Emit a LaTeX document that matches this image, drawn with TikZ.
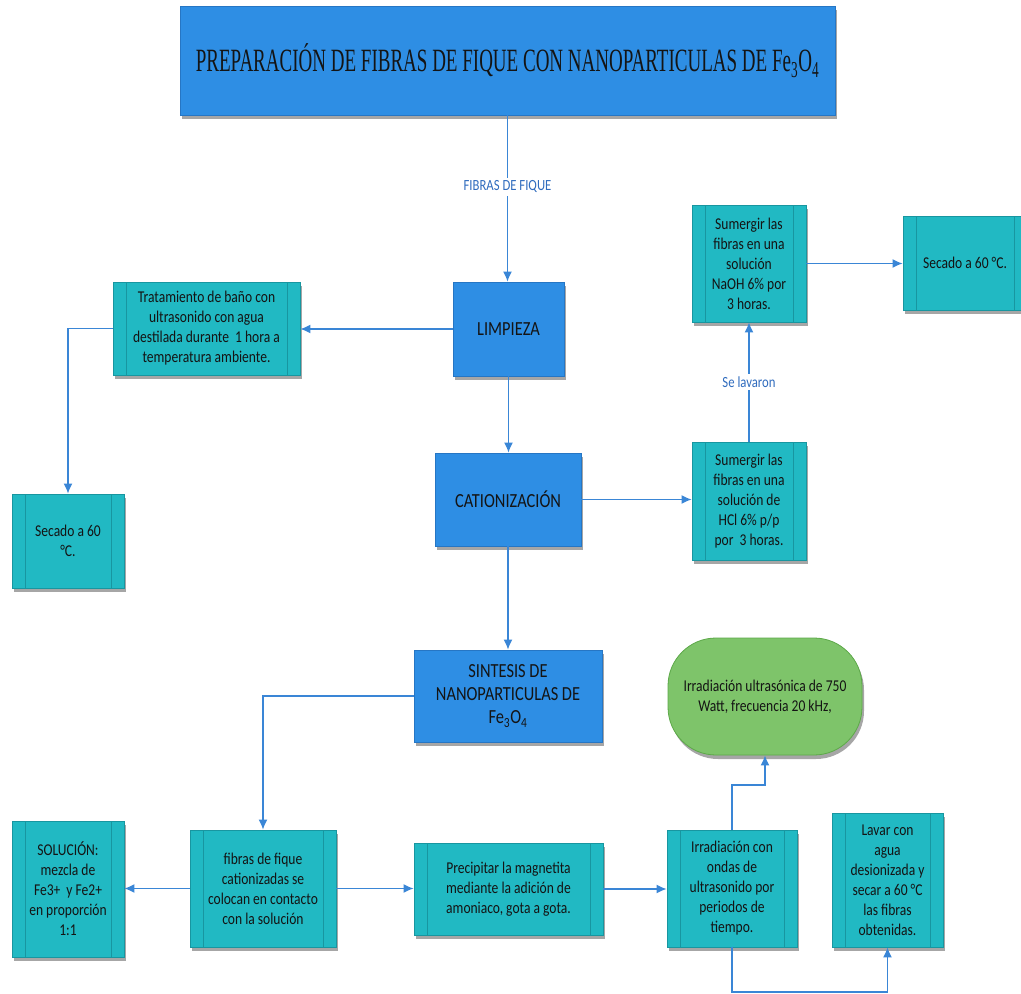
\documentclass[tikz,border=0pt]{standalone}
\usepackage{fontspec}
\setmainfont{Carlito}[FakeStretch=0.82]
\newfontfamily\titlefont{Liberation Serif}[FakeStretch=0.585]
\usetikzlibrary{arrows.meta,shadows}
\definecolor{blueF}{RGB}{46,142,228}
\definecolor{blueD}{RGB}{38,118,196}
\definecolor{tealF}{RGB}{33,185,195}
\definecolor{tealD}{RGB}{24,150,160}
\definecolor{greenF}{RGB}{126,196,106}
\definecolor{greenD}{RGB}{92,168,72}
\definecolor{lineC}{RGB}{58,134,214}
\definecolor{lblC}{RGB}{48,108,190}
\definecolor{txt}{RGB}{20,20,20}
\tikzset{
  shad/.style={drop shadow={shadow xshift=2pt,shadow yshift=-4pt,opacity=0.35,fill=black}},
  bluebox/.style={shad,draw=blueD,fill=blueF,line width=0.8pt,text=txt,align=center,
    font=\fontsize{20}{23}\selectfont,inner sep=2pt},
  proc/.style={shad,draw=tealD,fill=tealF,line width=0.8pt,text=txt,align=center,
    font=\fontsize{16.5}{20}\selectfont,inner sep=2pt,
    path picture={\draw[tealD,line width=0.8pt]
      ([xshift=13pt]path picture bounding box.north west) -- ([xshift=13pt]path picture bounding box.south west)
      ([xshift=-13pt]path picture bounding box.north east) -- ([xshift=-13pt]path picture bounding box.south east);}},
  greenbox/.style={shad,draw=greenD,fill=greenF,line width=0.8pt,rounded corners=48pt,text=txt,align=center,
    font=\fontsize{16.5}{20}\selectfont},
  conn/.style={draw=lineC,line width=1.4pt,-{Latex[length=10pt,width=9pt]}},
  lbl/.style={fill=white,text=lblC,font=\fontsize{15.5}{18}\selectfont,inner sep=3pt}
}
\begin{document}
\begin{tikzpicture}[x=1pt,y=-1pt]
\path[use as bounding box] (0,0) rectangle (1021,994);
\clip (0,0) rectangle (1021,994);
% nodes
\node[bluebox,minimum width=655pt,minimum height=109pt] (title) at (507.5,60.5)
  {\titlefont\fontsize{32.5}{36}\selectfont PREPARACIÓN DE FIBRAS DE FIQUE CON NANOPARTICULAS DE Fe\textsubscript{3}O\textsubscript{4}};
\node[bluebox,minimum width=111pt,minimum height=94pt] (lim) at (508.5,329) {LIMPIEZA};
\node[proc,minimum width=187pt,minimum height=93pt] (trat) at (206.5,328.5)
  {Tratamiento de baño con\\ultrasonido con agua\\destilada durante \ 1 hora a\\temperatura ambiente.};
\node[proc,minimum width=112pt,minimum height=94pt] (sec1) at (68,541) {Secado a 60\\°C.};
\node[bluebox,minimum width=146pt,minimum height=93pt] (cat) at (508,499.5) {CATIONIZACIÓN};
\node[proc,minimum width=114pt,minimum height=118pt] (hcl) at (749,501)
  {Sumergir las\\fibras en una\\solución de\\HCl 6\% p/p\\por \ 3 horas.};
\node[proc,minimum width=114pt,minimum height=117pt] (naoh) at (749,263.5)
  {Sumergir las\\fibras en una\\solución\\NaOH 6\% por\\3 horas.};
\node[proc,minimum width=124pt,minimum height=94pt] (sec2) at (965,263) {Secado a 60 °C.};
\node[bluebox,minimum width=188pt,minimum height=92pt] (sint) at (508,696)
  {SINTESIS DE\\NANOPARTICULAS DE\\Fe\textsubscript{3}O\textsubscript{4}};
\node[greenbox,minimum width=194pt,minimum height=117pt] (green) at (765,696.5)
  {Irradiación ultrasónica de 750\\Watt, frecuencia 20 kHz,};
\node[proc,minimum width=112pt,minimum height=136pt] (sol) at (68,889)
  {SOLUCIÓN:\\mezcla de\\Fe3+ \ y Fe2+\\en proporción\\1:1};
\node[proc,minimum width=146pt,minimum height=117pt] (fib) at (263,888.5)
  {fibras de fique\\cationizadas se\\colocan en contacto\\con la solución};
\node[proc,minimum width=189pt,minimum height=92pt] (prec) at (508.5,889)
  {Precipitar la magnetita\\mediante la adición de\\amoniaco, gota a gota.};
\node[proc,minimum width=130pt,minimum height=117pt] (irr) at (732,888.5)
  {Irradiación con\\ondas de\\ultrasonido por\\periodos de\\tiempo.};
\node[proc,minimum width=111pt,minimum height=134pt] (lav) at (887.5,880)
  {Lavar con\\agua\\desionizada y\\secar a 60 °C\\las fibras\\obtenidas.};
% connectors
\draw[conn] (title.south) -- node[lbl,pos=0.43]{FIBRAS DE FIQUE} (title.south |- lim.north);
\draw[conn] (lim.west) -- (lim.west -| trat.east);
\draw[conn] (trat.west) -| (sec1.north);
\draw[conn] (lim.south) -- (lim.south |- cat.north);
\draw[conn] (cat.east) -- (cat.east -| hcl.west);
\draw[conn] (hcl.north) -- node[lbl]{Se lavaron} (naoh.south);
\draw[conn] (naoh.east) -- (naoh.east -| sec2.west);
\draw[conn] (cat.south) -- (cat.south |- sint.north);
\draw[conn] (sint.west) -| (fib.north);
\draw[conn] (fib.west) -- (fib.west -| sol.east);
\draw[conn] (fib.east) -- (fib.east -| prec.west);
\draw[conn] (prec.east) -- (prec.east -| irr.west);
\coordinate (k1) at (732,785);
\draw[conn] (irr.north) -- (k1) -| (green.south);
\coordinate (k2) at (732,992);
\draw[conn] (irr.south) -- (k2) -| (lav.south);
\end{tikzpicture}
\end{document}
